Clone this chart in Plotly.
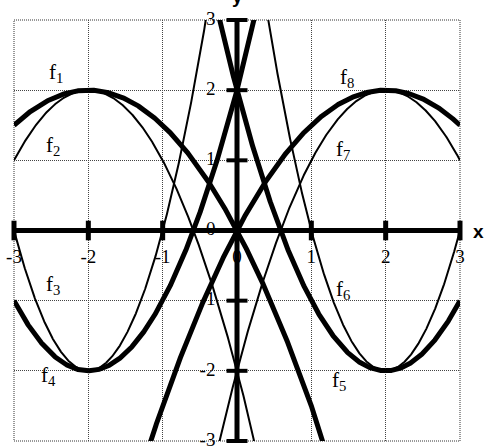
import numpy as np
import plotly.graph_objects as go

# ---- data ----
# each curve is a parabola y = a*(x-h)^2 + k ; parameters
NAMES = ["f1", "f2", "f3", "f4", "f5", "f6", "f7", "f8"]
COEF_A = [-0.5, -1, 2, 1, 1, 2, -1, -0.5]
VERTEX_H = [-2, -2, -2, -2, 2, 2, 2, 2]
VERTEX_K = [2, 2, -2, -2, -2, -2, 2, 2]
THICK = [True, False, False, True, True, False, False, True]

# label positions for the curve names (data coordinates)
LABEL_X = [-2.44, -2.48, -2.48, -2.53, 1.37, 1.43, 1.43, 1.48]
LABEL_Y = [2.24, 1.20, -0.78, -2.08, -2.14, -0.85, 1.15, 2.17]

TICKS = [-3, -2, -1, 0, 1, 2, 3]
AXIS_MIN, AXIS_MAX = -3, 3
XLABEL_OFFSET = -0.40   # x tick labels sit below the x axis
YLABEL_OFFSET = -0.29   # y tick labels sit left of the y axis

SERIF = "Liberation Serif, Times New Roman, serif"
SANS = "Liberation Sans, Arial, sans-serif"

fig = go.Figure()

# tick labels (drawn first, so axes lie over them)
fig.add_trace(go.Scatter(
    x=TICKS, y=[XLABEL_OFFSET] * len(TICKS), mode="text",
    text=[str(t) for t in TICKS], textposition="middle center",
    textfont=dict(family=SERIF, size=19, color="black"),
    cliponaxis=False, showlegend=False, hoverinfo="skip"))
fig.add_trace(go.Scatter(
    x=[YLABEL_OFFSET] * len(TICKS), y=TICKS, mode="text",
    text=[str(t) for t in TICKS], textposition="middle left",
    textfont=dict(family=SERIF, size=19, color="black"),
    cliponaxis=False, showlegend=False, hoverinfo="skip"))

xs = np.linspace(AXIS_MIN, AXIS_MAX, 1201)
for name, a, h, k, thick in zip(NAMES, COEF_A, VERTEX_H, VERTEX_K, THICK):
    ys = a * (xs - h) ** 2 + k
    fig.add_trace(go.Scatter(
        x=xs, y=ys, mode="lines", name=name,
        line=dict(color="black", width=5 if thick else 2),
        showlegend=False, hoverinfo="skip"))

# axes
fig.add_trace(go.Scatter(x=[AXIS_MIN, AXIS_MAX], y=[0, 0], mode="lines",
                         line=dict(color="black", width=5),
                         showlegend=False, hoverinfo="skip"))
fig.add_trace(go.Scatter(x=[0, 0], y=[AXIS_MIN, AXIS_MAX], mode="lines",
                         line=dict(color="black", width=5),
                         showlegend=False, hoverinfo="skip"))
# tick marks
fig.add_trace(go.Scatter(x=TICKS, y=[0] * len(TICKS), mode="markers",
                         marker=dict(symbol="line-ns", size=14,
                                     line=dict(color="black", width=5)),
                         cliponaxis=False, showlegend=False, hoverinfo="skip"))
fig.add_trace(go.Scatter(x=[0] * len(TICKS), y=TICKS, mode="markers",
                         marker=dict(symbol="line-ew", size=15,
                                     line=dict(color="black", width=4)),
                         cliponaxis=False, showlegend=False, hoverinfo="skip"))

annotations = []
for name, lx, ly in zip(NAMES, LABEL_X, LABEL_Y):
    annotations.append(dict(
        x=lx, y=ly, text="f<sub>%s</sub>" % name[1:], showarrow=False,
        font=dict(family=SERIF, size=21, color="black"),
        xanchor="center", yanchor="middle"))
annotations.append(dict(x=1, xref="paper", y=0, yref="y", text="<b>x</b>",
                        showarrow=False, xanchor="center", yanchor="middle",
                        xshift=18, yshift=-1,
                        font=dict(family=SANS, size=19, color="black")))
annotations.append(dict(x=0, y=1, yref="paper", text="<b>y</b>",
                        showarrow=False, xanchor="center", yanchor="bottom",
                        yshift=11, font=dict(family=SANS, size=19, color="black")))

grid = dict(range=[AXIS_MIN, AXIS_MAX], tickvals=TICKS, showticklabels=False,
            showgrid=True, gridcolor="#444444", griddash="1px,1px", gridwidth=1,
            zeroline=False, showline=False, ticks="", fixedrange=True)

fig.update_layout(
    width=484, height=446,
    margin=dict(l=14, r=24, t=20, b=5),
    paper_bgcolor="white", plot_bgcolor="white",
    xaxis=grid, yaxis=grid,
    annotations=annotations,
    shapes=[dict(type="rect", xref="paper", yref="paper", x0=0, y0=0, x1=1, y1=1,
                 line=dict(color="#333333", width=1, dash="1px,1px"), layer="below")],
)

fig.write_html("out.html", config={"displayModeBar": False},
               post_script="document.body.style.margin='0';document.body.style.overflow='hidden';")
